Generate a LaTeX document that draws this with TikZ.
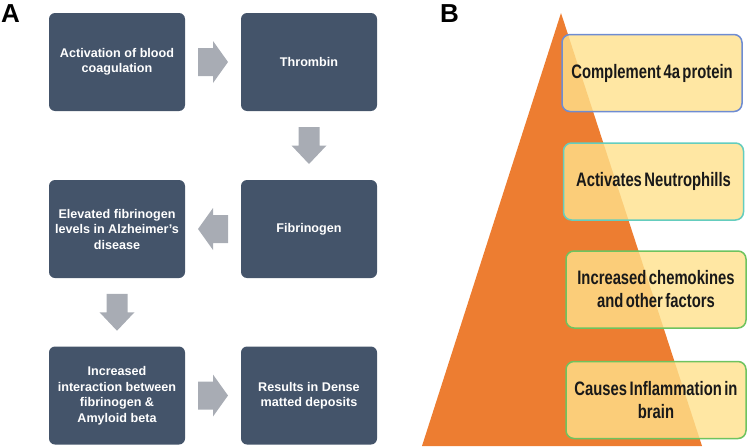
\documentclass[tikz,border=0pt]{standalone}
\usepackage{fontspec}
\setmainfont{Liberation Sans}
\newfontfamily\narrowfont[FakeStretch=0.76,WordSpace=0.6]{Liberation Sans}
\usetikzlibrary{calc}
\definecolor{darkbox}{RGB}{68,84,106}
\definecolor{arrowgray}{RGB}{168,172,180}
\definecolor{tri}{RGB}{237,125,49}
\definecolor{ylw}{RGB}{255,225,140}
\definecolor{bdblue}{RGB}{110,140,210}
\definecolor{bdteal}{RGB}{100,205,190}
\definecolor{bdgreen}{RGB}{110,195,95}
\begin{document}
\begin{tikzpicture}[x=1pt,y=-1pt,
 flowbox/.style={draw=none, fill=darkbox, rounded corners=6pt, minimum width=136pt, minimum height=98pt, text width=130pt, align=flush center, text=white, font=\fontsize{12.6}{15.5}\selectfont\bfseries, inner sep=0pt},
 hblock/.pic={\fill[arrowgray] (-15,-14) -- (0,-14) -- (0,-21) -- (15,0) -- (0,21) -- (0,14) -- (-15,14) -- cycle;},
 vblock/.pic={\fill[arrowgray] (-10.5,-18.5) -- (10.5,-18.5) -- (10.5,0) -- (17.5,0) -- (0,18.5) -- (-17.5,0) -- (-10.5,0) -- cycle;},
 ybox/.style={fill=ylw, fill opacity=0.8, text opacity=1, draw opacity=1, line width=1.5pt, rounded corners=8pt, minimum width=180pt, minimum height=77pt, text width=176pt, align=flush center, text=black!90, font=\narrowfont\fontsize{19.5}{23}\selectfont\bfseries, inner sep=0pt},
 panel/.style={font=\fontsize{26}{26}\selectfont\bfseries, inner sep=0pt, anchor=north west}
]
\useasboundingbox (0,0) rectangle (750,447);
% panel labels
\node[panel] (la) at (1,4) {A};
\node[panel] (lb) at (440,4) {B};
% panel A
\node[flowbox] (n1) at (117,62) {Activation of blood\\coagulation};
\node[flowbox] (n2) at (309,62) {Thrombin};
\node[flowbox] (n3) at (309,229) {Fibrinogen};
\node[flowbox] (n4) at (117,229) {Elevated fibrinogen\\levels in Alzheimer’s\\disease};
\node[flowbox] (n5) at (117,395.5) {Increased\\interaction between\\fibrinogen \&\\Amyloid beta};
\node[flowbox] (n6) at (309,395.5) {Results in Dense\\matted deposits};
\coordinate (c1) at ($(n1.east)!0.5!(n2.west)$);
\coordinate (c2) at ($(n2.south)!0.5!(n3.north)$);
\coordinate (c3) at ($(n3.west)!0.5!(n4.east)$);
\coordinate (c4) at ($(n4.south)!0.5!(n5.north)$);
\coordinate (c5) at ($(n5.east)!0.5!(n6.west)$);
\pic at (c1) {hblock};
\pic at (c2) {vblock};
\pic[rotate=180] at (c3) {hblock};
\pic at (c4) {vblock};
\pic at (c5) {hblock};
% panel B
\fill[tri] (561,13) -- (422,446) -- (702,446) -- cycle;
\node[ybox, draw=bdblue] (b1) at (652,73) {Complement 4a protein};
\node[ybox, draw=bdteal] (b2) at (653.5,181.5) {Activates Neutrophills};
\node[ybox, draw=bdgreen] (b3) at (656,289.5) {Increased chemokines\\and other factors};
\node[ybox, draw=bdgreen] (b4) at (656,400) {Causes Inflammation in\\brain};
\end{tikzpicture}
\end{document}
